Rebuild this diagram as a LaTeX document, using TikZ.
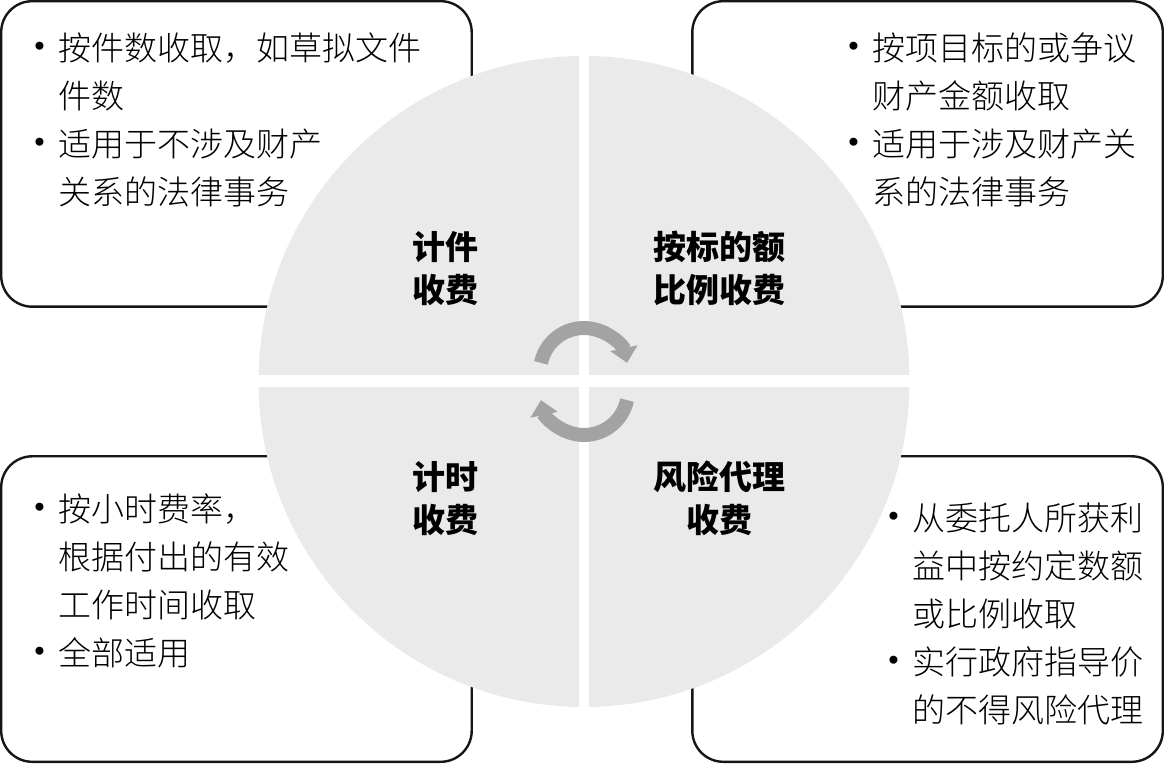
\documentclass[tikz,border=0pt]{standalone}
\usepackage{fontspec}
\setmainfont{Noto Sans CJK SC}
\newfontfamily\thincjk{Noto Sans CJK SC Light}
\usepackage{tikz}
\usetikzlibrary{arrows.meta,positioning}
\definecolor{discgray}{HTML}{E9EAE9}
\definecolor{cyclegray}{HTML}{A3A3A3}
\definecolor{edgeblack}{HTML}{161616}

\begin{document}
\begin{tikzpicture}[
  x=1pt, y=1pt,
  feebox/.style={rectangle, rounded corners=31pt, draw=edgeblack, line width=2.4pt,
                 fill=white, minimum width=470.5pt, minimum height=305.5pt,
                 inner sep=0pt},
  note/.style={anchor=north west, align=left, inner sep=0pt,
               font=\thincjk\fontsize{33}{48}\selectfont},
  quad/.style={align=center, inner sep=0pt,
               font=\fontsize{33}{43}\selectfont\bfseries},
  gap/.style={white, line width=#1},
  cyc/.style={cyclegray, line width=14pt, -{Triangle[length=15pt, width=27pt]}}
]
\newcommand{\itm}{\llap{\makebox[36pt]{\makebox[0pt]{\raisebox{-1.5pt}{\scalebox{1.3}{•}}}}}}
\useasboundingbox (0,0) rectangle (1164,763);

% ---- corner boxes ----
\node[feebox, anchor=north west] (pieceBox) at (0,763) {};
\node[feebox, anchor=north east] (ratioBox) at (1164,763) {};
\node[feebox, anchor=south west] (hourBox) at (0,0) {};
\node[feebox, anchor=south east] (riskBox) at (1164,0) {};

% ---- disc and quarters ----
\node[circle, fill=discgray, minimum size=651pt, inner sep=0pt] (disc) at (584,381.5) {};
\draw[gap=10pt] ([yshift=2pt]disc.north) -- ([yshift=-2pt]disc.south);
\draw[gap=12pt] ([xshift=-2pt]disc.west) -- ([xshift=2pt]disc.east);

% cycle arrows
\coordinate (hubTop) at (584,391);
\coordinate (hubBot) at (584,372);
\draw[cyc] ([shift={(168:44)}]hubTop) arc[start angle=168, end angle=12, radius=44];
\draw[cyc] ([shift={(-12:44)}]hubBot) arc[start angle=-12, end angle=-168, radius=44];

% ---- quarter labels ----
\node[quad] (pieceLab) at (445,494.5) {计件\\收费};
\node[quad] (ratioLab) at (719,494.5) {按标的额\\比例收费};
\node[quad] (hourLab) at (445,264.5) {计时\\收费};
\node[quad] (riskLab) at (719,264.5) {风险代理\\收费};

% ---- box texts ----
\node[note] (pieceTxt) at (58,730)
  {\itm 按件数收取，如草拟文件\\件数\\\itm 适用于不涉及财产\\关系的法律事务};
\node[note] (ratioTxt) at (872,730)
  {\itm 按项目标的或争议\\财产金额收取\\\itm 适用于涉及财产关\\系的法律事务};
\node[note] (hourTxt) at (58,269)
  {\itm 按小时费率，\\根据付出的有效\\工作时间收取\\\itm 全部适用};
\node[note] (riskTxt) at (912,260)
  {\itm 从委托人所获利\\益中按约定数额\\或比例收取\\\itm 实行政府指导价\\的不得风险代理};
\end{tikzpicture}
\end{document}
